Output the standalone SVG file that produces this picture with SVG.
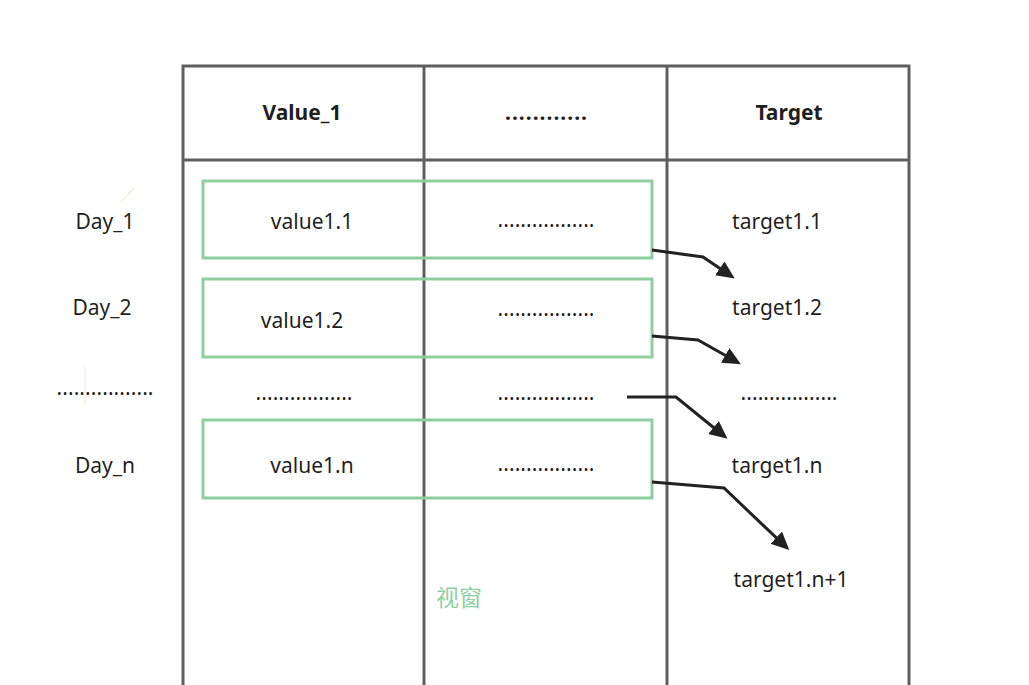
<svg xmlns="http://www.w3.org/2000/svg" width="1029" height="685" viewBox="0 0 1029 685">
<style>
.grid{stroke:#5f5f5f;stroke-width:3;fill:none}
.win{stroke:#8fcf9f;stroke-width:3;fill:none}
.conn{stroke:#222;stroke-width:3;fill:none}
text{font-family:"Noto Sans","Open Sans",sans-serif;font-size:21px;fill:#1f1f1f;text-anchor:middle;dominant-baseline:central}
.hd{font-weight:bold}
.cn{font-family:"Noto Sans CJK SC",sans-serif;font-size:23px;fill:#8fcf9f}
</style>
<defs>
<marker id="ah" markerWidth="8" markerHeight="7" refX="4.5" refY="2.8" orient="auto" markerUnits="strokeWidth">
<path d="M0,0 L6,2.8 L0,5.6 Z" fill="#222"/>
</marker>
</defs>
<rect width="1029" height="685" fill="#fff"/>
<g id="table">
<path class="grid" d="M183,685 V66 H909 V685 M424,66 V685 M667,66 V685 M183,160 H909"/>
</g>
<g id="header">
<text class="hd" x="302" y="112">Value_1</text>
<text class="hd" x="546" y="112" textLength="82" lengthAdjust="spacing">............</text>
<text class="hd" x="789" y="112">Target</text>
</g>
<g id="rows">
<text x="105" y="221">Day_1</text>
<text x="102" y="307">Day_2</text>
<text x="105" y="387" textLength="97" lengthAdjust="spacing">.................</text>
<text x="105" y="465">Day_n</text>
<text x="312" y="221">value1.1</text>
<text x="302" y="320">value1.2</text>
<text x="304" y="392" textLength="97" lengthAdjust="spacing">.................</text>
<text x="312" y="465">value1.n</text>
<text x="546" y="219" textLength="97" lengthAdjust="spacing">.................</text>
<text x="546" y="308" textLength="97" lengthAdjust="spacing">.................</text>
<text x="546" y="392" textLength="97" lengthAdjust="spacing">.................</text>
<text x="546" y="463" textLength="97" lengthAdjust="spacing">.................</text>
<text x="777" y="221">target1.1</text>
<text x="777" y="307">target1.2</text>
<text x="789" y="392" textLength="97" lengthAdjust="spacing">.................</text>
<text x="777" y="465">target1.n</text>
<text x="791" y="579">target1.n+1</text>
</g>
<g id="window1"><rect class="win" x="203" y="181" width="449" height="77"/></g>
<g id="window2"><rect class="win" x="203" y="279" width="449" height="78"/></g>
<g id="window3"><rect class="win" x="203" y="420" width="449" height="78"/></g>
<g id="window-label"><text class="cn" x="459" y="596">视窗</text></g>
<g id="connectors">
<path class="conn" d="M652,250 L703,257 L731,276" marker-end="url(#ah)"/>
<path class="conn" d="M652,336 L698,340 L737,362" marker-end="url(#ah)"/>
<path class="conn" d="M627,397 L676,397 L724,436" marker-end="url(#ah)"/>
<path class="conn" d="M652,482 L724,488 L786,547" marker-end="url(#ah)"/>
</g>
<g id="strays">
<line x1="122" y1="201" x2="134" y2="188" stroke="#f3dcb0" stroke-width="1"/>
<line x1="85" y1="366" x2="85" y2="405" stroke="#f5ead5" stroke-width="1"/>
</g>
</svg>
